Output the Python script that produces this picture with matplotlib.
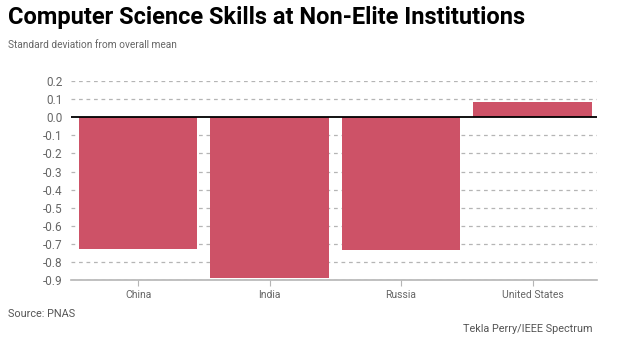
import matplotlib
matplotlib.use("Agg")
from matplotlib import pyplot as plt
import numpy as np

countries = ['China', 'India', 'Russia', 'United States']
values = [-0.725, -0.885, -0.731, 0.084]
yticks = [0.2, 0.1, 0.0, -0.1, -0.2, -0.3, -0.4, -0.5, -0.6, -0.7, -0.8, -0.9]

plt.rcParams['font.family'] = ['Roboto', 'DejaVu Sans']

fig = plt.figure(figsize=(6.17, 3.38), dpi=100)
ax = fig.add_axes([0.1151, 0.1707, 0.8525, 0.5897])

x = np.arange(len(countries))
ax.bar(x, values, width=0.9, color='#cd5267', zorder=2)

ax.set_xlim(-0.51, 3.49)
ax.set_ylim(-0.9, 0.2)
ax.set_yticks(yticks)
ax.set_yticklabels(['%.1f' % v for v in yticks])
ax.set_xticks(x)
ax.set_xticklabels(countries)

for v in yticks:
    if v == 0.0:
        continue
    ax.axhline(v, color='#b5b5b5', lw=0.9, ls=(0, (3, 3)), zorder=1)
ax.axhline(0, color='black', lw=1.3, zorder=3)

for s in ['top', 'right', 'left']:
    ax.spines[s].set_visible(False)
ax.spines['bottom'].set_color('#b5b5b5')
ax.spines['bottom'].set_linewidth(1.2)

ax.tick_params(axis='y', length=0, labelsize=8.5, labelcolor='#666666', pad=6)
ax.tick_params(axis='x', length=4, color='#b5b5b5', labelsize=7.5,
               labelcolor='#666666', pad=3)

fig.text(0.013, 0.948, 'Computer Science Skills at Non-Elite Institutions',
         fontsize=17, fontweight='bold', color='black', va='center', ha='left')
fig.text(0.013, 0.867, 'Standard deviation from overall mean',
         fontsize=7.3, color='#666666', va='center', ha='left')
fig.text(0.013, 0.071, 'Source: PNAS', fontsize=7.8, color='#555555',
         va='center', ha='left')
fig.text(0.96, 0.026, 'Tekla Perry/IEEE Spectrum', fontsize=7.8, color='#555555',
         va='center', ha='right')

fig.savefig('out.png', dpi=100)
